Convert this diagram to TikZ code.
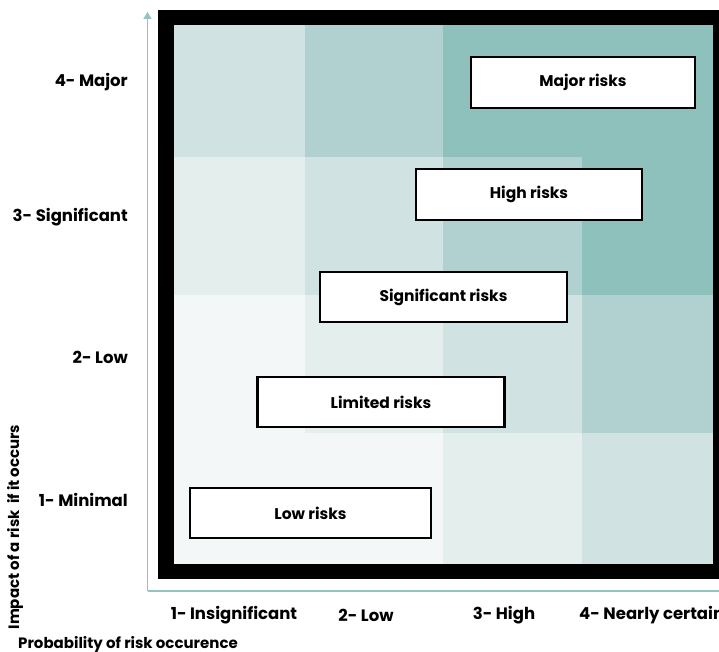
\documentclass[tikz,border=0pt]{standalone}
\usepackage{fontspec}
\setmainfont{Poppins}
\usetikzlibrary{arrows.meta}
\definecolor{cA}{HTML}{F3F7F7}
\definecolor{cB}{HTML}{E4EEED}
\definecolor{cC}{HTML}{D0E3E2}
\definecolor{cD}{HTML}{B0D1CF}
\definecolor{cE}{HTML}{8FC1BC}
\definecolor{axiscol}{HTML}{93C4BF}
\tikzset{
  riskbox/.style={draw=black, line width=2.6pt, fill=white, inner sep=0pt,
    font=\fontsize{15.5}{18}\selectfont\bfseries},
  lvl/.style={font=\fontsize{16.5}{20}\selectfont\bfseries, inner sep=0pt},
  axtitle/.style={font=\fontsize{15}{18}\selectfont\bfseries, inner sep=0pt},
  axisline/.style={draw=axiscol, line width=1.6pt},
}
\begin{document}
\begin{tikzpicture}[x=1pt,y=-1pt]
\useasboundingbox (0,0) rectangle (719,652);
% cells
\fill[cC] (174,25) rectangle (305,157);
\fill[cD] (305,25) rectangle (443,157);
\fill[cE] (443,25) rectangle (713,157);
\fill[cB] (174,157) rectangle (305,295);
\fill[cC] (305,157) rectangle (443,295);
\fill[cD] (443,157) rectangle (582,295);
\fill[cE] (582,157) rectangle (713,295);
\fill[cA] (174,295) rectangle (305,433);
\fill[cB] (305,295) rectangle (443,433);
\fill[cC] (443,295) rectangle (582,433);
\fill[cD] (582,295) rectangle (713,433);
\fill[cA] (174,433) rectangle (443,564);
\fill[cB] (443,433) rectangle (582,564);
\fill[cC] (582,433) rectangle (713,564);
% frame
\draw[line width=15.5pt] (166,17.5) rectangle (721,571.5);
% axes
\coordinate (org) at (147.5,591);
\coordinate (ytop) at (147.5,12);
\coordinate (xend) at (725,591);
\draw[axisline, -{Triangle[width=8pt,length=7pt]}] (org) -- (ytop);
\draw[axisline] (org) -- (xend);
% risk boxes
\node[riskbox, minimum width=224pt, minimum height=51pt] (major) at (583,82.5) {Major risks};
\node[riskbox, minimum width=226pt, minimum height=51pt] (high) at (529,194.5) {High risks};
\node[riskbox, minimum width=247pt, minimum height=50pt] (sig) at (443.5,297) {Significant risks};
\node[riskbox, minimum width=247pt, minimum height=50pt] (lim) at (381,402) {Limited risks};
\node[riskbox, minimum width=241pt, minimum height=50pt] (low) at (310.5,513) {Low risks};
% level labels (impact)
\node[lvl, anchor=east] (i4) at (128,82) {4- Major};
\node[lvl, anchor=east] (i3) at (128,217) {3- Significant};
\node[lvl, anchor=east] (i2) at (128,357) {2- Low};
\node[lvl, anchor=east] (i1) at (128,500) {1- Minimal};
% level labels (probability)
\node[lvl] (p1) at (234,615) {1- Insignificant};
\node[lvl] (p2) at (366,615) {2- Low};
\node[lvl] (p3) at (504,615) {3- High};
\node[lvl, anchor=west] (p4) at (579,615) {4- Nearly certain};
% axis titles
\node[axtitle, rotate=90] (ytitle) at (15,527) {Impact of a risk~~if it occurs};
\node[axtitle, anchor=west] (xtitle) at (18,644) {Probability of risk occurence};
\end{tikzpicture}
\end{document}
